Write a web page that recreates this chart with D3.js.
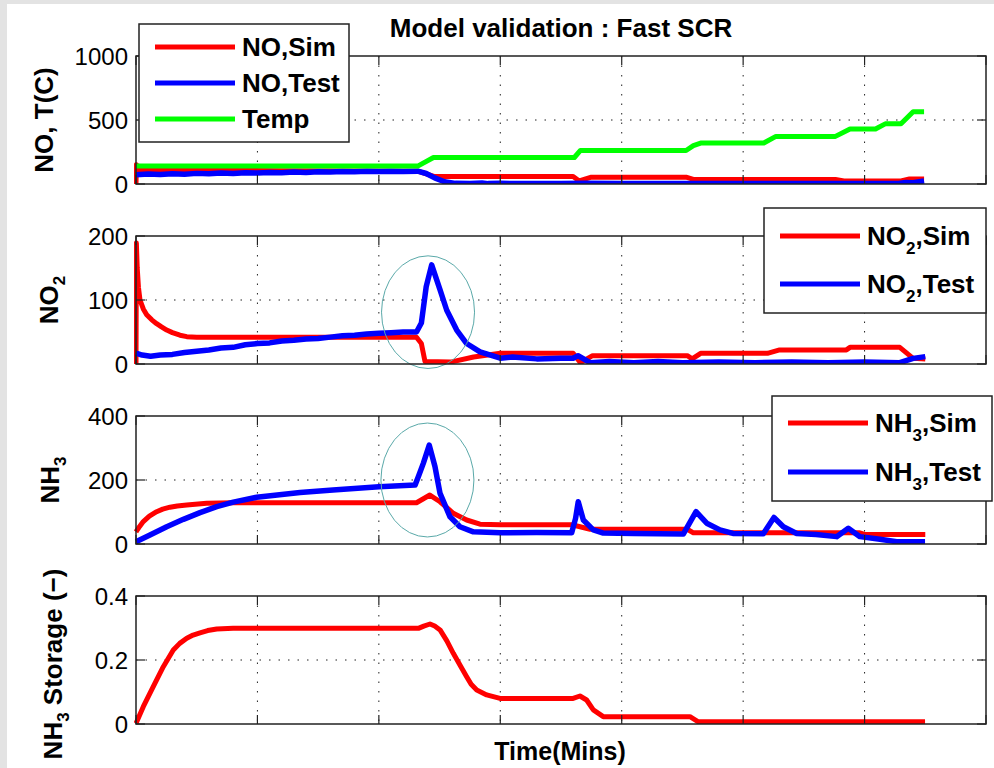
<!DOCTYPE html>
<html>
<head>
<meta charset="utf-8">
<script src="https://cdn.jsdelivr.net/npm/d3@7"></script>
<style>
  html, body { margin: 0; padding: 0; background: #e3e3e3; }
  svg { display: block; font-family: "Liberation Sans", Arial, Helvetica, sans-serif; }
</style>
</head>
<body>
<svg id="fig" width="994" height="768"></svg>
<script>
// ---- Time axis (minutes), unlabelled grid every 10 min ----
const timeDomain = [0, 70];
const timeTicks = [0, 10, 20, 30, 40, 50, 60, 70];

// ---- Panel 1: NO and catalyst temperature ----
const noTicks = [0, 500, 1000];
const noSim = [[0,0],[0.03,150],[0.35,112],[3,108],[12,104],[23.2,100],[24.6,58],[36.0,58],[36.5,24],[37.5,53],[45.3,53],[45.9,36],[57.6,36],[58.3,24],[63.0,24],[63.7,40],[64.9,40]];
const noTest = [[0,72],[1,78],[2,74],[3,80],[4,77],[5,83],[6,80],[7,86],[8,82],[9,88],[10,85],[11,90],[12,88],[13,93],[14,90],[15,95],[16,93],[17,97],[18,95],[19,99],[20,97],[21,100],[22,98],[23.2,100],[23.9,82],[24.6,48],[25.4,18],[26.3,5],[27.5,3],[28.5,7],[29,3],[30,6],[31,3],[33,4],[35,3],[37,5],[40,3],[44,4],[48,3],[52,4],[56,3],[60,3],[62.8,4],[63.4,12],[64.0,10],[64.5,18],[64.9,24]];
const tempC = [[0,140],[23.2,140],[24.5,207],[36.1,207],[36.6,262],[45.3,262],[45.9,300],[46.5,320],[51.7,320],[52.7,372],[57.6,372],[58.8,430],[60.9,430],[61.7,470],[63.0,470],[64.0,565],[64.9,565]];

// ---- Panel 2: NO2 ----
const no2Ticks = [0, 100, 200];
const no2Sim = [[0,0],[0.03,189],[0.1,150],[0.2,120],[0.33,100],[0.6,86],[0.88,77],[1.3,69],[1.7,63],[2.1,58],[2.53,53],[3.0,49],[3.62,45],[4.18,42.7],[5,41.7],[23.1,41.7],[23.5,32],[23.8,4],[25.9,3],[27.8,11],[30,16.7],[36,16.7],[36.6,2],[37.6,13],[45.4,13],[45.8,8],[46.5,16.7],[52,16.7],[53,22],[58.5,22],[58.8,26],[62.9,26],[64,8.8],[65,8]];
const no2Test = [[0,17],[0.5,14],[1.2,12],[2,14],[3,15],[4,18],[5,20],[6,22],[7,25],[8,26],[9,30],[10,32],[11,33],[12,36],[13,37],[14,39],[15,40],[16,42],[17,44],[18,45],[19,47],[20,48],[21,49],[22,50],[23.1,50],[23.5,64],[23.9,121],[24.35,155],[25.04,116],[25.59,84],[26.41,53],[27.23,32],[28.33,19],[30,9],[31,11],[33,8],[35,9],[36,9],[36.4,13],[37.4,2],[39,4],[41,2],[43,4],[45,2],[48,3],[51,2],[54,3],[57,2],[60,3],[62.9,2],[64,8.8],[65,11.5]];

// ---- Panel 3: NH3 slip ----
const nh3Ticks = [0, 200, 400];
const nh3Sim = [[0,38],[0.3,55],[0.6,70],[1.1,87],[1.7,101],[2.2,109],[2.8,115],[3.4,119],[4.18,122],[5.82,127],[8,129],[23.1,129],[24.2,153],[25.04,132],[26.13,96],[27.23,75],[28.33,62],[30,60],[35.9,60],[37.4,46],[45.4,46],[45.9,35],[59.6,35],[60.0,30],[65,30]];
const nh3Test = [[0,7],[1.15,28],[2.53,54],[3.9,77],[5.27,98],[6.65,117],[8.01,131],[9.94,146],[13.51,161],[16.22,169],[20.01,179],[22.98,184],[23.25,210],[23.66,252],[24.15,309],[24.62,242],[25.04,158],[25.86,85],[26.68,54],[27.78,38],[30,35],[33,36],[35.88,35],[36.2,80],[36.42,132],[36.84,75],[37.66,44],[38.48,34],[41,33],[45.07,31],[46.12,101],[47.0,65],[48.09,44],[49.16,33],[51.66,32],[52.54,83],[53.31,54],[54.41,33],[56,30],[57.7,23],[58.66,49],[59.62,23],[61.27,15],[62.64,7],[64.98,7]];

// ---- Panel 4: NH3 storage (coverage, -) ----
const storTicks = [0, 0.2, 0.4];
const storSim = [[0,0.002],[0.6,0.054],[1.42,0.117],[2.25,0.179],[3.07,0.231],[3.6,0.252],[4.18,0.268],[4.7,0.278],[5.27,0.285],[5.9,0.292],[6.65,0.297],[8,0.299],[23.25,0.299],[23.7,0.306],[24.21,0.3125],[24.6,0.306],[25.04,0.294],[25.6,0.26],[26.13,0.221],[26.7,0.183],[27.23,0.148],[27.6,0.124],[28.06,0.106],[28.88,0.091],[29.98,0.080],[36,0.080],[36.56,0.0875],[37.11,0.075],[37.66,0.044],[38.48,0.023],[45.62,0.023],[46.31,0.007],[64.98,0.007]];

// ---- Highlight ellipses around the transient peaks (data units) ----
const no2Ring = { t: 24.05, v: 81, rt: 3.83, rv: 88 };
const nh3Ring = { t: 24.0, v: 200, rt: 3.83, rv: 178 };

const RED = "#ff0000", BLUE = "#0000ff", GREEN = "#00ff00";

const svg = d3.select("#fig");

// page frame: grey surround with white figure area
svg.append("rect").attr("x", 0).attr("y", 0).attr("width", 994).attr("height", 768).attr("fill", "#e3e3e3");
svg.append("rect").attr("x", 7).attr("y", 4).attr("width", 987).attr("height", 764).attr("fill", "#ffffff");

const plotLeft = 136, plotRight = 986, plotH = 128;
const x = d3.scaleLinear().domain(timeDomain).range([plotLeft, plotRight]);

// render "A_2,B" style text: "_" makes the next character a subscript
function richText(sel, str, size, subSize, subShift) {
  const parts = [];
  let i = 0, buf = "";
  while (i < str.length) {
    if (str[i] === "_" && i + 1 < str.length) {
      if (buf) parts.push({ t: buf, sub: false });
      buf = "";
      parts.push({ t: str[i + 1], sub: true });
      i += 2;
    } else { buf += str[i]; i++; }
  }
  if (buf) parts.push({ t: buf, sub: false });
  let shifted = 0;
  parts.forEach(p => {
    const ts = sel.append("tspan").text(p.t);
    if (p.sub) {
      ts.attr("font-size", subSize).attr("dy", subShift - shifted);
      shifted = subShift;
    } else {
      ts.attr("font-size", size).attr("dy", -shifted);
      shifted = 0;
    }
  });
}

const panels = [
  { top: 56, dom: [0, 1000], ticks: noTicks, fmt: d => d, label: "NO, T(C)", lx: 53, ly: 120,
    series: [[noSim, RED], [noTest, BLUE], [tempC, GREEN]],
    legend: { x: 139, y: 24, w: 210, h: 118, rows: [23, 59, 95], items: ["NO,Sim", "NO,Test", "Temp"], colors: [RED, BLUE, GREEN] } },
  { top: 236, dom: [0, 200], ticks: no2Ticks, fmt: d => d, label: "NO_2", lx: 58, ly: 300,
    series: [[no2Sim, RED], [no2Test, BLUE]], ring: no2Ring,
    legend: { x: 764, y: 208, w: 222, h: 105, rows: [28, 76], items: ["NO_2,Sim", "NO_2,Test"], colors: [RED, BLUE] } },
  { top: 416, dom: [0, 400], ticks: nh3Ticks, fmt: d => d, label: "NH_3", lx: 59, ly: 480,
    series: [[nh3Sim, RED], [nh3Test, BLUE]], ring: nh3Ring,
    legend: { x: 772, y: 396, w: 220, h: 105, rows: [27, 76], items: ["NH_3,Sim", "NH_3,Test"], colors: [RED, BLUE] } },
  { top: 596, dom: [0, 0.4], ticks: storTicks, fmt: d => (d === 0 ? "0" : d.toFixed(1)), label: "NH_3 Storage (\u2212)", lx: 62, ly: 664,
    series: [[storSim, RED]] }
];

panels.forEach((p, idx) => {
  const y = d3.scaleLinear().domain(p.dom).range([p.top + plotH, p.top]);
  const g = svg.append("g");

  // dotted grid
  g.append("g").selectAll("line").data(timeTicks.slice(1, -1)).join("line")
    .attr("x1", d => x(d)).attr("x2", d => x(d))
    .attr("y1", p.top).attr("y2", p.top + plotH)
    .attr("stroke", "#222").attr("stroke-width", 1).attr("stroke-dasharray", "1.5,8");
  g.append("g").selectAll("line").data(p.ticks.slice(1, -1)).join("line")
    .attr("x1", plotLeft).attr("x2", plotRight)
    .attr("y1", d => y(d)).attr("y2", d => y(d))
    .attr("stroke", "#222").attr("stroke-width", 1).attr("stroke-dasharray", "1.5,8");

  // data
  const clipId = "clip" + idx;
  svg.append("clipPath").attr("id", clipId).append("rect")
    .attr("x", plotLeft - 2).attr("y", p.top).attr("width", plotRight - plotLeft + 2).attr("height", plotH);
  const line = d3.line().x(d => x(d[0])).y(d => y(d[1]));
  const dg = g.append("g").attr("clip-path", `url(#${clipId})`);
  p.series.forEach(([data, color]) => {
    dg.append("path").datum(data).attr("d", line)
      .attr("fill", "none").attr("stroke", color)
      .attr("stroke-width", color === BLUE ? 5.5 : 5)
      .attr("stroke-linejoin", "round").attr("stroke-linecap", "butt");
  });

  // highlight ring
  if (p.ring) {
    g.append("ellipse")
      .attr("cx", x(p.ring.t)).attr("cy", y(p.ring.v))
      .attr("rx", x(p.ring.t + p.ring.rt) - x(p.ring.t))
      .attr("ry", y(p.ring.v - p.ring.rv) - y(p.ring.v))
      .attr("fill", "none").attr("stroke", "#5aa9a9").attr("stroke-width", 1);
  }

  // inward tick marks on all four sides
  const tl = 9;
  const tk = g.append("g").attr("stroke", "#222").attr("stroke-width", 1.2);
  timeTicks.forEach(t => {
    tk.append("line").attr("x1", x(t)).attr("x2", x(t)).attr("y1", p.top + plotH).attr("y2", p.top + plotH - tl);
    tk.append("line").attr("x1", x(t)).attr("x2", x(t)).attr("y1", p.top).attr("y2", p.top + tl);
  });
  p.ticks.forEach(v => {
    tk.append("line").attr("x1", plotLeft).attr("x2", plotLeft + tl).attr("y1", y(v)).attr("y2", y(v));
    tk.append("line").attr("x1", plotRight).attr("x2", plotRight - tl).attr("y1", y(v)).attr("y2", y(v));
  });

  // axes box
  g.append("rect").attr("x", plotLeft).attr("y", p.top).attr("width", plotRight - plotLeft).attr("height", plotH)
    .attr("fill", "none").attr("stroke", "#222").attr("stroke-width", 1.5);

  // y tick labels
  g.append("g").selectAll("text").data(p.ticks).join("text")
    .attr("x", plotLeft - 8).attr("y", d => y(d)).attr("dy", "0.36em")
    .attr("text-anchor", "end").attr("font-size", 24).attr("fill", "#000")
    .text(p.fmt);

  // y label
  const yl = g.append("text")
    .attr("transform", `translate(${p.lx},${p.ly}) rotate(-90)`)
    .attr("text-anchor", "middle").attr("font-weight", "bold").attr("fill", "#000");
  richText(yl, p.label, 26, 17, 7);

  // legend
  if (p.legend) {
    const L = p.legend;
    const lg = svg.append("g");
    lg.append("rect").attr("x", L.x).attr("y", L.y).attr("width", L.w).attr("height", L.h)
      .attr("fill", "#fff").attr("stroke", "#222").attr("stroke-width", 1.5);
    L.items.forEach((name, i) => {
      const ry = L.y + L.rows[i];
      lg.append("line").attr("x1", L.x + 16).attr("x2", L.x + 96).attr("y1", ry).attr("y2", ry)
        .attr("stroke", L.colors[i]).attr("stroke-width", 5);
      const tx = lg.append("text").attr("x", L.x + 103).attr("y", ry + 9)
        .attr("font-weight", "bold").attr("fill", "#000");
      richText(tx, name, 26, 17, 9);
    });
  }
});

// title and x label
svg.append("text").attr("x", 561).attr("y", 37).attr("text-anchor", "middle")
  .attr("font-size", 26).attr("font-weight", "bold").attr("fill", "#000")
  .text("Model validation : Fast SCR");
svg.append("text").attr("x", 560).attr("y", 760).attr("text-anchor", "middle")
  .attr("font-size", 25).attr("font-weight", "bold").attr("fill", "#000")
  .text("Time(Mins)");
</script>
</body>
</html>
